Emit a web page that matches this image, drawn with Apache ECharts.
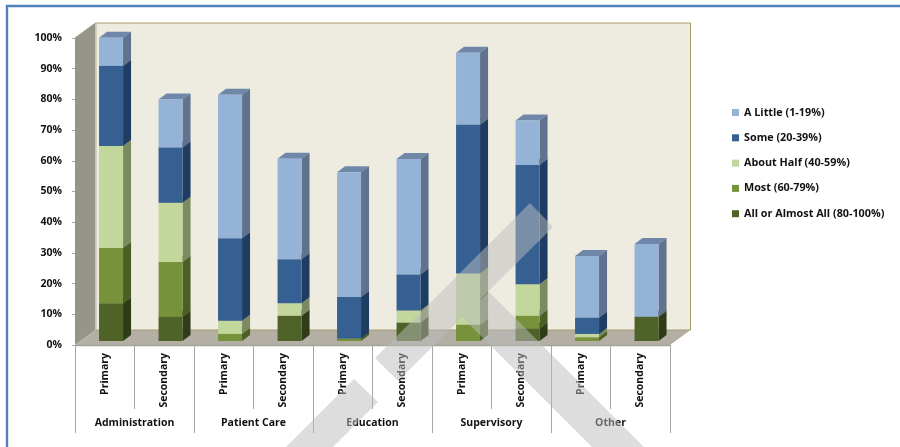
<!DOCTYPE html>
<html>
<head>
<meta charset="utf-8">
<style>html,body{margin:0;padding:0;background:#fff}#chart{width:900px;height:447px}</style>
<script src="https://cdn.jsdelivr.net/npm/echarts@6/dist/echarts.min.js"></script>
</head>
<body>
<div id="chart"></div>
<script>
// Share of staff time by role level, stacked by the portion of time spent.
const groups = ['Administration', 'Patient Care', 'Education', 'Supervisory', 'Other'];
const roles = ['Primary', 'Secondary', 'Primary', 'Secondary', 'Primary', 'Secondary', 'Primary', 'Secondary', 'Primary', 'Secondary'];
const allOrAlmostAll = [12.3, 7.9, 0, 8.2, 0, 6, 0, 4.1, 0, 7.9];
const most = [18, 17.8, 2.3, 0, 0.8, 0, 5.3, 4.1, 1.2, 0];
const aboutHalf = [33.2, 19.3, 4.3, 4.1, 0, 3.9, 16.7, 10.3, 1.1, 0];
const some = [26.1, 18, 26.9, 14.3, 13.5, 11.8, 48.4, 38.8, 5.3, 0];
const aLittle = [9.2, 15.7, 46.7, 32.8, 40.7, 37.6, 23.5, 14.5, 20.1, 23.7];
const tickValues = { min: 0, max: 100, step: 10 };

const palette = [
  { name: 'All or Almost All (80-100%)', values: allOrAlmostAll, front: '#4F6228', side: '#303C18', top: '#3F4E20' },
  { name: 'Most (60-79%)', values: most, front: '#76933C', side: '#4A5E25', top: '#5E7630' },
  { name: 'About Half (40-59%)', values: aboutHalf, front: '#C3D69B', side: '#7C8A62', top: '#9CAB7C' },
  { name: 'Some (20-39%)', values: some, front: '#366092', side: '#1F3D63', top: '#2B4D75' },
  { name: 'A Little (1-19%)', values: aLittle, front: '#95B3D7', side: '#60728D', top: '#6F87A8' }
];

const FONT = '"Open Sans", "Liberation Sans", sans-serif';
const DEPTH_X = 20.5, DEPTH_Y = 15;           // room depth of the 3D box
const BAR_W = 24, BAR_DX = 8, BAR_DY = 6;     // prism size
const BAR_SHIFT_X = 6.3, BAR_SHIFT_Y = -4;    // prisms stand inside the floor

function poly(points, fill, stroke) {
  return { type: 'polygon', shape: { points }, style: { fill, stroke: stroke || null, lineWidth: stroke ? 1 : 0 } };
}

// Walls and floor of the box, derived from the grid rectangle.
function renderRoom(params) {
  const c = params.coordSys;
  const l = c.x, r = c.x + c.width, t = c.y, b = c.y + c.height;
  const dx = DEPTH_X, dy = DEPTH_Y;
  return {
    type: 'group',
    children: [
      poly([[l + dx, t - dy], [r + dx, t - dy], [r + dx, b - dy], [l + dx, b - dy]], '#EEECE1'),
      { type: 'polyline', shape: { points: [[l, t], [l + dx, t - dy], [r + dx, t - dy], [r + dx, b - dy]] }, style: { stroke: '#A89C6A', lineWidth: 1, fill: null } },
      { type: 'line', shape: { x1: l + dx + 1, y1: t - dy, x2: l + dx + 1, y2: b - dy }, style: { stroke: '#D4D1BE', lineWidth: 1 } },
      poly([[l, t], [l + dx, t - dy], [l + dx, b - dy], [l, b]], '#96958A'),
      poly([[l, b], [l + dx, b - dy], [r + dx, b - dy], [r, b]], '#B3AFA5'),
      { type: 'line', shape: { x1: l + dx, y1: b - dy, x2: r + dx, y2: b - dy }, style: { stroke: '#A89C6A', lineWidth: 1 } },
      { type: 'line', shape: { x1: l, y1: b + 0.5, x2: r, y2: b + 0.5 }, style: { stroke: '#A5A299', lineWidth: 1.5 } }
    ]
  };
}

// One stacked segment: front face, right side and top.
function renderSegment(look) {
  return function (params, api) {
    const i = api.value(0), low = api.value(1), high = api.value(2);
    if (high <= low) return { type: 'group', children: [] };
    const cx = api.coord([i, 0])[0] + BAR_SHIFT_X;
    const x1 = cx - BAR_W / 2, x2 = cx + BAR_W / 2;
    const y1 = api.coord([i, low])[1] + BAR_SHIFT_Y;
    const y2 = api.coord([i, high])[1] + BAR_SHIFT_Y;
    return {
      type: 'group',
      children: [
        poly([[x1, y2], [x2, y2], [x2 + BAR_DX, y2 - BAR_DY], [x1 + BAR_DX, y2 - BAR_DY]], look.top),
        poly([[x2, y2], [x2 + BAR_DX, y2 - BAR_DY], [x2 + BAR_DX, y1 - BAR_DY], [x2, y1]], look.side),
        poly([[x1, y2], [x2, y2], [x2, y1], [x1, y1]], look.front)
      ]
    };
  };
}

const running = roles.map(() => 0);
const segmentSeries = palette.map(look => ({
  type: 'custom',
  name: look.name,
  xAxisIndex: 0,
  yAxisIndex: 0,
  itemStyle: { color: look.front },
  renderItem: renderSegment(look),
  encode: { x: 0, y: 2 },
  data: look.values.map((v, i) => {
    const low = running[i];
    running[i] = low + v;
    return [i, low, running[i]];
  }),
  z: 3
}));

const labelText = { fontFamily: FONT, fontSize: 10.5, fontWeight: 700, color: '#111' };

const option = {
  animation: false,
  backgroundColor: '#fff',
  grid: { left: 75, right: 230, top: 38, bottom: 102 },
  legend: {
    orient: 'vertical',
    left: 732,
    top: 105.5,
    padding: 0,
    itemWidth: 7,
    itemHeight: 7,
    itemGap: 11.3,
    icon: 'rect',
    selectedMode: false,
    data: palette.map(p => p.name).reverse(),
    textStyle: { ...labelText, fontSize: 10.8, lineHeight: 14 }
  },
  xAxis: [
    {
      type: 'category',
      data: roles,
      position: 'bottom',
      axisLine: { show: false },
      axisTick: { show: true, length: 64, lineStyle: { color: '#A6A6A6', width: 1 } },
      axisLabel: { interval: 0, rotate: 90, margin: 8, ...labelText }
    },
    {
      type: 'category',
      data: groups,
      position: 'bottom',
      axisLine: { show: false },
      axisTick: { show: true, length: 88, lineStyle: { color: '#A6A6A6', width: 1 } },
      axisLabel: { interval: 0, margin: 73, ...labelText }
    }
  ],
  yAxis: {
    type: 'value',
    min: tickValues.min,
    max: tickValues.max,
    interval: tickValues.step,
    splitLine: { show: false },
    axisLine: { show: false },
    axisTick: { show: true, length: 3, lineStyle: { color: '#A6A6A6' } },
    axisLabel: { formatter: '{value}%', margin: 13, ...labelText }
  },
  graphic: [
    // Page frame: left and top edges only
    { type: 'polyline', z: 200, silent: true, shape: { points: [[7, 447], [7, 6], [900, 6]] }, style: { stroke: '#4F81BD', lineWidth: 2.4, fill: null } },
    // Diagonal stamp laid across the chart
    { type: 'polygon', z: 200, silent: true, shape: { points: [[530, 203], [553, 227], [398, 381], [375, 358]] }, style: { fill: 'rgba(188,188,188,0.5)' } },
    { type: 'polygon', z: 200, silent: true, shape: { points: [[354, 379], [378, 402], [333, 447], [286, 447]] }, style: { fill: 'rgba(188,188,188,0.5)' } },
    { type: 'polygon', z: 200, silent: true, shape: { points: [[489, 292], [644, 447], [592, 447], [462, 317]] }, style: { fill: 'rgba(188,188,188,0.5)' } }
  ],
  series: [
    { type: 'custom', name: 'room', xAxisIndex: 0, yAxisIndex: 0, silent: true, renderItem: renderRoom, data: [[0, 0]], z: 1 }
  ].concat(segmentSeries)
};

const chart = echarts.init(document.getElementById('chart'), null, { renderer: 'canvas' });
chart.setOption(option);
</script>
</body>
</html>
